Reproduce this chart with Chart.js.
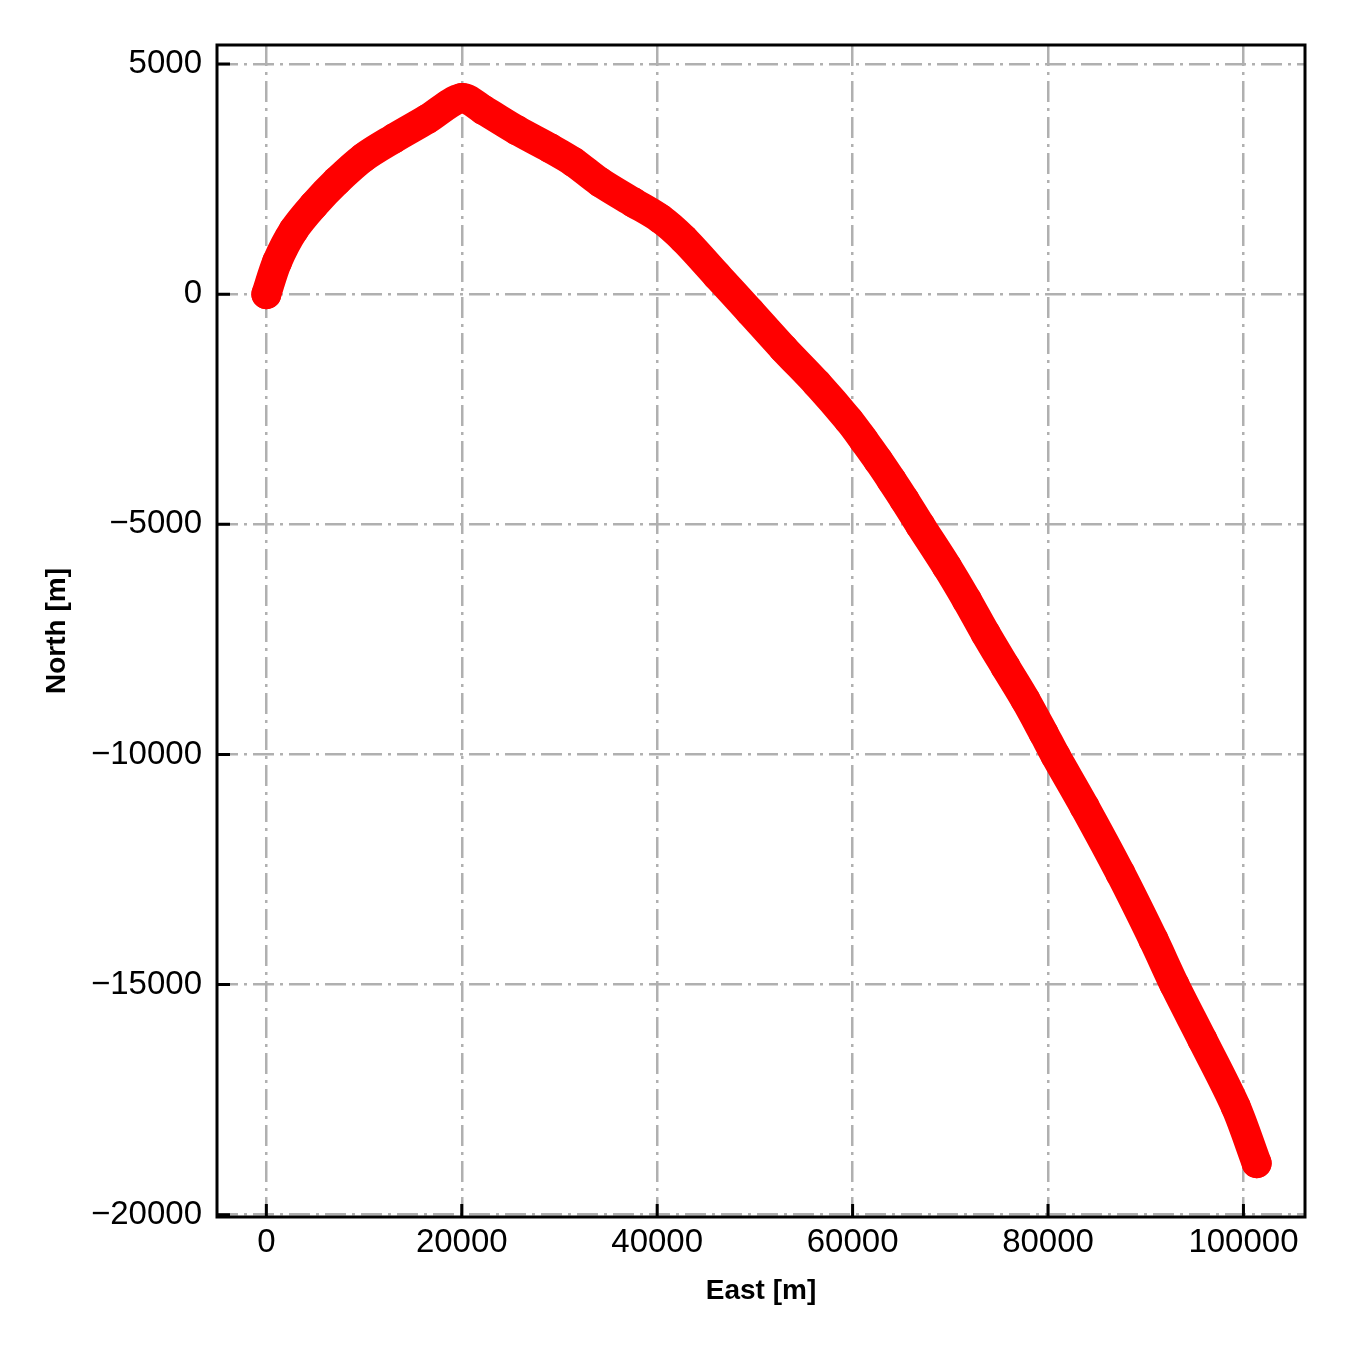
<!DOCTYPE html>
<html><head><meta charset="utf-8">
<script src="https://cdn.jsdelivr.net/npm/chart.js@4"></script>
<style>html,body{margin:0;padding:0;background:#fff}canvas{display:block}</style>
</head><body>
<canvas id="c" width="1350" height="1350"></canvas>
<script>
const eastValues = [0, 1100, 2800, 4840, 7230, 9950, 13020, 16440, 20000,
  22230, 25650, 29050, 31440, 34170, 37580, 40310, 42690, 46110, 49510,
  52920, 56340, 59610, 61130, 62610, 63980, 65300, 66920, 69650, 71700, 73600,
  75650, 77700, 79550, 80750, 83750, 87400, 90800, 92950, 95800, 99200, 101350];
const northValues = [0, 700, 1390, 1930, 2460, 2970, 3380, 3800, 4260,
  4000, 3560, 3170, 2870, 2430, 1990, 1640, 1200, 410, -380,
  -1180, -1940, -2740, -3170, -3610, -4040, -4470, -5020, -5920, -6650, -7370,
  -8100, -8820, -9540, -10020, -11140, -12580, -14030, -15010, -16200, -17650, -18880];
const xTickValues = [0, 20000, 40000, 60000, 80000, 100000];
const yTickValues = [-20000, -15000, -10000, -5000, 0, 5000];
const xTitle = 'East [m]';
const yTitle = 'North [m]';

const points = eastValues.map((e, i) => ({x: e, y: northValues[i]}));
const fmt = v => (v < 0 ? '\u2212' + Math.abs(v) : String(v));
const FONT = "'Liberation Sans', Arial, Helvetica, sans-serif";
const gridStyle = {color: '#b0b0b0', lineWidth: 2.5, drawTicks: false};
const borderStyle = {display: false, dash: [21, 6, 3, 6]};

const frameAndTicks = {
  id: 'frameAndTicks',
  beforeDatasetsDraw(chart) {
    const {ctx, chartArea: a, scales: {x, y}} = chart;
    ctx.save();
    ctx.strokeStyle = '#000';
    ctx.lineWidth = 3;
    ctx.beginPath();
    x.ticks.forEach(t => { const p = x.getPixelForValue(t.value); ctx.moveTo(p, a.bottom); ctx.lineTo(p, a.bottom - 13); });
    y.ticks.forEach(t => { const p = y.getPixelForValue(t.value); ctx.moveTo(a.left, p); ctx.lineTo(a.left + 13, p); });
    ctx.stroke();
    ctx.restore();
  },
  afterDraw(chart) {
    const {ctx, chartArea: a} = chart;
    ctx.save();
    ctx.strokeStyle = '#000';
    ctx.lineWidth = 3;
    ctx.strokeRect(a.left, a.top, a.right - a.left, a.bottom - a.top);
    ctx.restore();
  }
};

new Chart(document.getElementById('c'), {
  type: 'scatter',
  data: {
    datasets: [{
      data: points,
      showLine: true,
      borderColor: '#ff0000',
      backgroundColor: '#ff0000',
      borderWidth: 30,
      borderCapStyle: 'round',
      borderJoinStyle: 'round',
      pointRadius: 15,
      pointBorderWidth: 0,
      pointHoverRadius: 15,
      tension: 0.3
    }]
  },
  options: {
    responsive: false,
    devicePixelRatio: 1,
    animation: false,
    layout: {padding: {left: 0, top: 45, right: 45, bottom: 0}},
    plugins: {legend: {display: false}, tooltip: {enabled: false}},
    scales: {
      x: {
        type: 'linear',
        min: -5050,
        max: 106300,
        afterBuildTicks: s => { s.ticks = xTickValues.map(v => ({value: v})); },
        afterFit: s => { s.height = 133; },
        grid: gridStyle,
        border: borderStyle,
        ticks: {color: '#000', padding: 6, font: {family: FONT, size: 33}, callback: v => fmt(v), maxRotation: 0, autoSkip: false},
        title: {display: true, text: xTitle, color: '#000', font: {family: FONT, size: 28, weight: 'bold'}, padding: {top: 0, bottom: 42}}
      },
      y: {
        type: 'linear',
        min: -20050,
        max: 5413,
        afterBuildTicks: s => { s.ticks = yTickValues.map(v => ({value: v})); },
        afterFit: s => { s.width = 217; },
        grid: gridStyle,
        border: borderStyle,
        ticks: {color: '#000', padding: 15, font: {family: FONT, size: 33}, callback: v => fmt(v), autoSkip: false},
        title: {display: true, text: yTitle, color: '#000', font: {family: FONT, size: 28, weight: 'bold'}, padding: {top: 40, bottom: 0}}
      }
    }
  },
  plugins: [frameAndTicks]
});
</script>
</body></html>
